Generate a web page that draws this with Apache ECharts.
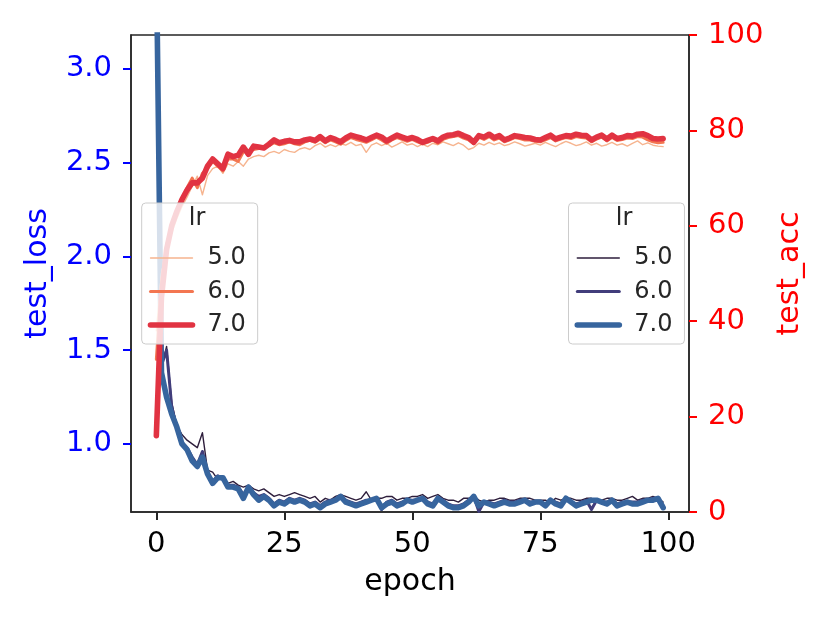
<!DOCTYPE html>
<html>
<head>
<meta charset="utf-8">
<script src="https://cdn.jsdelivr.net/npm/echarts@6/dist/echarts.min.js"></script>
<style>
html,body{margin:0;padding:0;background:#fff;}
#chart{width:830px;height:623px;}
</style>
</head>
<body>
<div id="chart"></div>
<script>
// ---- data (epochs 0..99) ----
const lrLabels = ['5.0', '6.0', '7.0'];
const xTicks = [0, 25, 50, 75, 100];
const lossTicks = [1.0, 1.5, 2.0, 2.5, 3.0];
const accTicks = [0, 20, 40, 60, 80, 100];

const acc5 = [38,50,55,58.5,61.5,64,66,68.3,70.4,66.5,70.5,72,72.5,71,73,72.5,73.5,72.5,74,74.5,
74.8,74.5,75.3,75.6,75.2,76,75.6,75.4,76.1,76.4,76.0,76.8,77.3,76.5,77.0,76.6,77.2,76.9,77.5,76.8,
77.1,75.4,76.9,77.4,76.8,77.3,76.5,77.0,77.6,76.9,77.2,76.6,77.1,76.6,77.3,77.0,77.6,77.2,76.8,77.4,
76.9,76.0,76.4,77.3,76.9,77.5,77.0,77.4,76.8,77.1,77.6,77.2,76.7,77.0,77.3,76.9,77.5,77.0,76.6,77.2,
77.7,77.3,76.8,77.1,77.6,76.9,77.3,76.7,77.0,77.5,76.9,77.2,76.7,77.3,77.8,77.0,77.4,76.9,76.7,76.6];

const acc6 = [32,48,56,60,62.5,65,68,70,68,71,72,73.5,72.5,71.5,74,74,73.5,75.5,75.5,76,
76.2,76.5,76.8,77.4,77.0,77.2,77.6,77.2,77.0,77.6,77.9,77.5,78.2,77.4,78.0,77.6,77.1,77.9,78.5,78.1,
77.8,77.5,78.0,78.6,78.0,77.3,78.0,78.5,78.1,77.7,78.1,77.6,77.2,77.5,78.0,77.3,78.1,78.5,78.7,78.9,
78.4,78.0,77.2,78.6,78.1,78.7,78.0,78.4,77.6,78.0,78.5,78.3,78.0,78.0,77.7,77.6,78.0,78.5,77.8,78.2,
78.5,78.3,78.7,78.5,78.4,77.6,78.2,78.6,77.8,78.5,77.9,78.1,78.4,78.3,78.7,78.6,78.0,77.6,77.4,77.5];

const acc7 = [16,45,55,60,63,65.5,67.5,69,69,70,72.5,74,73,72,75,74.5,74.8,76.5,75,76.7,
76.5,76.3,77.1,78,77.4,77.7,77.9,77.6,77.6,78.0,78.2,77.9,78.7,77.8,78.5,78.1,77.6,78.4,79.0,78.7,
78.4,78.0,78.5,79.0,78.6,77.8,78.4,79.0,78.6,78.2,78.5,78.1,77.5,77.9,78.3,77.8,78.6,79.0,79.1,79.4,
78.9,78.5,77.5,78.9,78.6,79.2,78.5,78.9,78.0,78.4,78.9,78.7,78.5,78.4,78.1,78.0,78.5,79.0,78.2,78.6,
78.9,78.8,79.2,79.0,78.9,78.0,78.6,79.0,78.2,79.0,78.3,78.5,78.9,78.8,79.2,79.3,78.9,78.3,78.2,78.3];

const loss5 = [3.5,1.40,1.52,1.22,1.10,1.05,1.02,1.00,0.98,1.06,0.86,0.85,0.81,0.82,0.79,0.80,0.78,0.77,0.78,0.76,
0.75,0.76,0.74,0.72,0.73,0.72,0.73,0.74,0.73,0.72,0.71,0.72,0.69,0.71,0.70,0.72,0.73,0.72,0.71,0.70,
0.71,0.745,0.70,0.71,0.71,0.72,0.72,0.70,0.71,0.71,0.72,0.72,0.73,0.71,0.72,0.73,0.71,0.70,0.70,0.69,
0.71,0.71,0.72,0.70,0.69,0.70,0.70,0.71,0.71,0.70,0.70,0.71,0.71,0.71,0.70,0.70,0.70,0.69,0.71,0.70,
0.71,0.71,0.70,0.70,0.71,0.71,0.70,0.70,0.71,0.71,0.70,0.70,0.71,0.72,0.70,0.71,0.71,0.72,0.71,0.69];

const loss6 = [3.55,1.42,1.50,1.20,1.08,1.01,0.98,0.93,0.89,0.96,0.85,0.80,0.83,0.81,0.78,0.78,0.77,0.73,0.77,0.74,
0.72,0.73,0.71,0.68,0.70,0.69,0.71,0.70,0.71,0.70,0.68,0.69,0.67,0.69,0.70,0.70,0.72,0.70,0.69,0.68,
0.69,0.70,0.70,0.71,0.65,0.69,0.70,0.68,0.69,0.70,0.70,0.70,0.71,0.69,0.68,0.71,0.70,0.68,0.67,0.67,
0.68,0.70,0.72,0.64,0.69,0.69,0.68,0.69,0.70,0.69,0.69,0.70,0.70,0.69,0.69,0.69,0.68,0.70,0.69,0.68,
0.71,0.69,0.68,0.69,0.70,0.65,0.70,0.69,0.69,0.70,0.68,0.69,0.69,0.69,0.69,0.70,0.70,0.71,0.71,0.67];

const loss7 = [3.6,1.38,1.25,1.16,1.09,1.00,0.97,0.91,0.88,0.93,0.84,0.79,0.82,0.82,0.77,0.77,0.76,0.71,0.77,0.73,
0.70,0.72,0.70,0.67,0.69,0.68,0.70,0.69,0.70,0.69,0.67,0.68,0.66,0.68,0.69,0.70,0.72,0.69,0.68,0.67,
0.68,0.69,0.70,0.71,0.66,0.68,0.69,0.67,0.68,0.70,0.69,0.70,0.71,0.68,0.67,0.71,0.69,0.67,0.66,0.66,
0.67,0.69,0.72,0.67,0.69,0.68,0.67,0.68,0.69,0.68,0.68,0.69,0.70,0.68,0.69,0.69,0.67,0.70,0.68,0.67,
0.71,0.69,0.67,0.68,0.69,0.70,0.70,0.69,0.68,0.70,0.67,0.68,0.69,0.68,0.68,0.69,0.70,0.70,0.71,0.66];

const accColors = ['#f6b48f', '#f37651', '#e13342'];
const lossColors = ['#2e1e3c', '#413d7b', '#37659e'];
const widths = [1.4, 3.0, 5.6];

// ---- build ----
const FONT = 'DejaVu Sans';
const SPINE = '#262626';
const toPairs = arr => arr.map((v, i) => [i, v]);
const accData = [acc5, acc6, acc7];
const lossData = [loss5, loss6, loss7];

const series = [];
lrLabels.forEach((lr, k) => {
  series.push({
    name: 'loss ' + lr, type: 'line', xAxisIndex: 0, yAxisIndex: 0,
    data: toPairs(lossData[k]), symbol: 'none', showSymbol: false, animation: false,
    lineStyle: { color: lossColors[k], width: widths[k], join: 'round', cap: 'round' },
    itemStyle: { color: lossColors[k] }, z: 2 + k, clip: true
  });
});
lrLabels.forEach((lr, k) => {
  series.push({
    name: 'acc ' + lr, type: 'line', xAxisIndex: 0, yAxisIndex: 1,
    data: toPairs(accData[k]), symbol: 'none', showSymbol: false, animation: false,
    lineStyle: { color: accColors[k], width: widths[k], join: 'round', cap: 'round' },
    itemStyle: { color: accColors[k] }, z: 6 + k, clip: true
  });
});

function legendCfg(prefix, colors, left) {
  return {
    data: lrLabels.map((l, k) => ({
      name: prefix + l,
      itemStyle: { opacity: 0 },
      lineStyle: { width: widths[k], color: colors[k], cap: 'round' }
    })),
    left: left, top: 203, orient: 'vertical',
    padding: [43, 12, 7, 6], itemWidth: 42, itemHeight: 14, itemGap: 9.5,
    backgroundColor: 'rgba(255,255,255,0.8)', borderColor: '#cccccc', borderWidth: 1, borderRadius: 4,
    selectedMode: false, z: 20,
    formatter: n => n.split(' ')[1],
    textStyle: { fontSize: 24, color: '#262626', fontFamily: FONT, lineHeight: 24, padding: [0, 0, 0, 10] }
  };
}

const chart = echarts.init(document.getElementById('chart'), null, { renderer: 'canvas' });
chart.setOption({
  animation: false,
  backgroundColor: '#ffffff',
  textStyle: { fontFamily: FONT },
  grid: { left: 131, right: 141, top: 35, bottom: 111, show: true, borderColor: SPINE, borderWidth: 1.5, backgroundColor: 'transparent', containLabel: false },
  xAxis: {
    type: 'value', min: -4.95, max: 104.05,
    name: 'epoch', nameLocation: 'middle', nameGap: 55,
    nameTextStyle: { fontSize: 30, color: '#000', fontFamily: FONT },
    axisLine: { show: true, onZero: false, lineStyle: { color: SPINE, width: 1.5 } },
    splitLine: { show: false },
    axisTick: { show: true, length: 8, customValues: xTicks, lineStyle: { color: SPINE, width: 2 } },
    axisLabel: { customValues: xTicks, fontSize: 29, color: '#000', margin: 18, fontFamily: FONT }
  },
  yAxis: [
    {
      type: 'value', min: 0.637, max: 3.181, position: 'left',
      name: 'test_loss', nameLocation: 'middle', nameGap: 78,
      nameTextStyle: { fontSize: 30, color: '#0000ff', fontFamily: FONT },
      axisLine: { show: true, onZero: false, lineStyle: { color: SPINE, width: 1.5 } },
      splitLine: { show: false },
      axisTick: { show: true, length: 8, customValues: lossTicks, lineStyle: { color: '#0000ff', width: 2 } },
      axisLabel: { customValues: lossTicks, fontSize: 29, color: '#0000ff', margin: 19, fontFamily: FONT, formatter: v => v.toFixed(1) }
    },
    {
      type: 'value', min: 0, max: 100, interval: 20, position: 'right',
      name: 'test_acc', nameLocation: 'middle', nameGap: 86,
      nameTextStyle: { fontSize: 30, color: '#ff0000', fontFamily: FONT },
      axisLine: { show: true, onZero: false, lineStyle: { color: SPINE, width: 1.5 } },
      splitLine: { show: false },
      axisTick: { show: true, length: 8, lineStyle: { color: '#ff0000', width: 2 } },
      axisLabel: { fontSize: 29, color: '#ff0000', margin: 19, fontFamily: FONT }
    }
  ],
  legend: [
    legendCfg('acc ', accColors, 141.7),
    legendCfg('loss ', lossColors, 568.5)
  ],
  graphic: [
    { type: 'text', x: 197, y: 219, z: 100, style: { text: 'lr', fill: '#262626', font: '24px "DejaVu Sans"', align: 'center', verticalAlign: 'middle' } },
    { type: 'text', x: 624, y: 219, z: 100, style: { text: 'lr', fill: '#262626', font: '24px "DejaVu Sans"', align: 'center', verticalAlign: 'middle' } }
  ],
  series: series
});
</script>
</body>
</html>
